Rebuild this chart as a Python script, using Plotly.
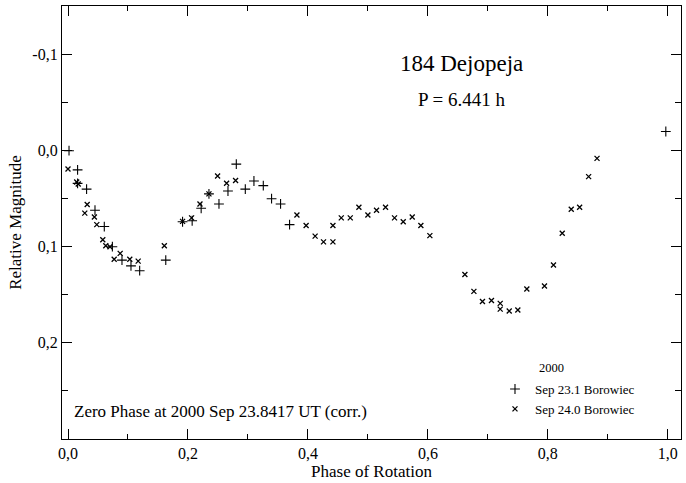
import plotly.graph_objects as go

# Sep 23.1 Borowiec ("+")
phase_a = [0.0017, 0.016, 0.016, 0.031, 0.045, 0.0605, 0.074, 0.090, 0.105, 0.1195,
           0.163, 0.191, 0.207, 0.222, 0.235, 0.2517, 0.2667, 0.2806, 0.2956, 0.310,
           0.3256, 0.3394, 0.3544, 0.3694, 0.9967]
mag_a = [0.000, 0.020, 0.034, 0.040, 0.062, 0.079, 0.100, 0.114, 0.120, 0.125,
         0.114, 0.074, 0.073, 0.060, 0.045, 0.0555, 0.042, 0.014, 0.040, 0.0316,
         0.0364, 0.050, 0.0555, 0.077, -0.020]

# Sep 24.0 Borowiec ("x")
phase_b = [0.000, 0.0145, 0.017, 0.032, 0.028, 0.044, 0.048, 0.058, 0.063, 0.070,
           0.077, 0.087, 0.103, 0.117, 0.1606, 0.191, 0.206, 0.220, 0.235, 0.2494,
           0.2644, 0.2794, 0.3817, 0.397, 0.412, 0.426, 0.4417, 0.4417, 0.4556, 0.4706,
           0.485, 0.500, 0.5144, 0.5294, 0.5444, 0.5589, 0.5739, 0.5883, 0.6033, 0.6617,
           0.6767, 0.691, 0.706, 0.7206, 0.7206, 0.7356, 0.750, 0.765, 0.7944, 0.8094,
           0.824, 0.839, 0.853, 0.868, 0.882]
mag_b = [0.019, 0.0326, 0.0347, 0.056, 0.065, 0.069, 0.077, 0.0927, 0.099, 0.100,
         0.113, 0.107, 0.113, 0.115, 0.099, 0.0736, 0.070, 0.0555, 0.045, 0.0264,
         0.034, 0.031, 0.067, 0.078, 0.089, 0.095, 0.095, 0.078, 0.070, 0.070,
         0.059, 0.067, 0.062, 0.059, 0.070, 0.074, 0.069, 0.078, 0.0885, 0.129,
         0.1465, 0.157, 0.156, 0.159, 0.165, 0.167, 0.166, 0.144, 0.141, 0.119,
         0.086, 0.061, 0.059, 0.027, 0.008]

x_tick_vals = [0.0, 0.2, 0.4, 0.6, 0.8, 1.0]
x_tick_text = ["0,0", "0,2", "0,4", "0,6", "0,8", "1,0"]
x_minor_vals = [0.1, 0.3, 0.5, 0.7, 0.9]
y_tick_vals = [-0.1, 0.0, 0.1, 0.2]
y_tick_text = ["-0,1", "0,0", "0,1", "0,2"]
y_minor_vals = [-0.15, -0.05, 0.05, 0.15, 0.25]

FONT = "Liberation Serif"

fig = go.Figure()
fig.add_trace(go.Scatter(
    x=phase_a, y=mag_a, mode="markers", name="Sep 23.1 Borowiec",
    marker=dict(symbol="cross-thin", size=7, color="black",
                line=dict(width=1.1, color="black"))))
fig.add_trace(go.Scatter(
    x=phase_b, y=mag_b, mode="markers", name="Sep 24.0 Borowiec",
    marker=dict(symbol="x-thin", size=5, color="black",
                line=dict(width=1.3, color="black"))))

axis_common = dict(
    showline=True, linecolor="black", linewidth=1.3, mirror="allticks",
    ticks="inside", ticklen=10, tickwidth=1.2, tickcolor="black",
    showgrid=False, zeroline=False, automargin=False,
    tickfont=dict(family=FONT, size=16, color="black"),
)

fig.update_xaxes(
    **axis_common, range=[-0.01, 1.022], tickmode="array",
    tickvals=x_tick_vals, ticktext=x_tick_text,
    minor=dict(tickmode="array", tickvals=x_minor_vals, ticks="inside",
               ticklen=5, tickwidth=1.2, tickcolor="black"),
    title=dict(text="Phase of Rotation", font=dict(family=FONT, size=17, color="black"),
               standoff=2),
)
fig.update_yaxes(
    **axis_common, range=[0.3003, -0.1507], tickmode="array",
    tickvals=y_tick_vals, ticktext=y_tick_text,
    minor=dict(tickmode="array", tickvals=y_minor_vals, ticks="inside",
               ticklen=6, tickwidth=1.2, tickcolor="black"),
    title=dict(text="Relative Magnitude", font=dict(family=FONT, size=17, color="black"),
               standoff=6),
)

fig.add_annotation(text="184 Dejopeja", xref="paper", yref="paper", x=0.646, y=0.868,
                   xanchor="center", yanchor="middle", showarrow=False,
                   font=dict(family=FONT, size=23, color="black"))
fig.add_annotation(text="P = 6.441 h", xref="paper", yref="paper", x=0.646, y=0.783,
                   xanchor="center", yanchor="middle", showarrow=False,
                   font=dict(family=FONT, size=19, color="black"))
fig.add_annotation(text="Zero Phase at 2000 Sep 23.8417 UT (corr.)", xref="paper", yref="paper",
                   x=0.016, y=0.0624, xanchor="left", yanchor="middle", showarrow=False,
                   font=dict(family=FONT, size=17, color="black"))
fig.add_annotation(text="2000", xref="paper", yref="paper", x=0.767, y=0.164,
                   xanchor="left", yanchor="middle", showarrow=False,
                   font=dict(family=FONT, size=12.5, color="black"))

fig.update_layout(
    width=686, height=483,
    margin=dict(l=62, r=5, t=6, b=44, autoexpand=False),
    paper_bgcolor="white", plot_bgcolor="white",
    font=dict(family=FONT, color="black"),
    legend=dict(x=0.6995, y=0.15, xanchor="left", yanchor="top",
                bgcolor="rgba(0,0,0,0)", font=dict(family=FONT, size=13, color="black"),
                itemwidth=30, tracegroupgap=0),
    showlegend=True,
)

fig.write_html("out.html", config={"displayModeBar": False},
               post_script="document.body.style.margin='0';document.body.style.padding='0';")
